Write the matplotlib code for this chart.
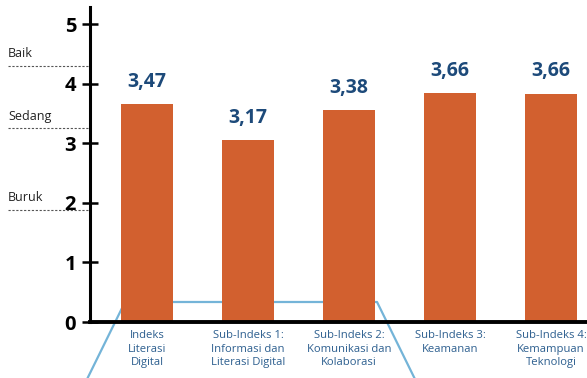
import matplotlib
matplotlib.use("Agg")
import matplotlib.pyplot as plt
import matplotlib.transforms as mtransforms

# ---- data ----
categories = ["Indeks\nLiterasi\nDigital",
              "Sub-Indeks 1:\nInformasi dan\nLiterasi Digital",
              "Sub-Indeks 2:\nKomunikasi dan\nKolaborasi",
              "Sub-Indeks 3:\nKeamanan",
              "Sub-Indeks 4:\nKemampuan\nTeknologi"]
values = [3.47, 3.17, 3.38, 3.66, 3.66]
value_labels = ["3,47", "3,17", "3,38", "3,66", "3,66"]
# bar heights as drawn against the picture's axis
bar_heights = [3.66, 3.05, 3.56, 3.84, 3.83]
yticks = [0, 1, 2, 3, 4, 5]
ref_names = ["Baik", "Sedang", "Buruk"]
ref_levels = [4.30, 3.25, 1.88]

W, H = 587, 378
fig = plt.figure(figsize=(W / 100, H / 100), dpi=100)
fig.patch.set_facecolor("white")
ax = fig.add_axes([90 / W, 1 - 322 / H, (W - 90) / W, (322 - 7) / H])

font = "Open Sans"
bar_color = "#d2602f"
navy = "#1d4a7a"
lab_blue = "#2d5f8f"
deco = "#74b4d8"
bw = 0.515

x = list(range(len(categories)))
ax.bar(x, bar_heights, width=bw, color=bar_color, zorder=3)

for xi, h, lab in zip(x, bar_heights, value_labels):
    ax.annotate(lab, (xi, h), xytext=(0, 9), textcoords="offset points",
                ha="center", va="bottom", fontsize=14, fontweight="bold",
                color=navy, family=font, zorder=4)

ax.set_xlim(-0.564, 4.356)
ax.set_ylim(0, 5.29)
ax.set_yticks(yticks)
ax.set_yticklabels([str(t) for t in yticks])
ax.tick_params(axis="y", direction="inout", length=12, width=1.8,
               pad=4, labelsize=14.5, colors="black")
for t in ax.get_yticklabels():
    t.set_fontweight("bold")
    t.set_family(font)
ax.set_xticks(x)
ax.set_xticklabels(categories, fontsize=8.1, color=lab_blue, family=font,
                   linespacing=1.3)
ax.tick_params(axis="x", length=0, pad=6)

for s in ["top", "right"]:
    ax.spines[s].set_visible(False)
ax.spines["left"].set_linewidth(2.2)
ax.spines["bottom"].set_linewidth(2.8)
ax.spines["left"].set_zorder(5)
ax.spines["bottom"].set_zorder(5)

# reference level lines on the left of the axis
trans = mtransforms.blended_transform_factory(ax.transAxes, ax.transData)
for name, lvl in zip(ref_names, ref_levels):
    ax.plot([-82 / 497, 0], [lvl, lvl], transform=trans, clip_on=False,
            color="#555555", lw=0.8, ls=(0, (2, 1.5)))
    ax.text(-82 / 497, lvl + 0.1, name, transform=trans, ha="left",
            va="bottom", fontsize=9, color="#222222", family=font)

# decorative light-blue outline behind the bars (bar 1 to bar 3)
dtrans = mtransforms.blended_transform_factory(ax.transData, fig.transFigure)
xl = x[0] - bw / 2 + 0.04
xr = x[2] + bw / 2 + 0.02
ytop = 1 - 302 / H
ax.plot([xl - 0.37, xl, xr, xr + 0.37], [0, ytop, ytop, 0], transform=dtrans,
        color=deco, lw=1.6, clip_on=False, zorder=1)

fig.savefig("out.png", dpi=100, facecolor="white")
